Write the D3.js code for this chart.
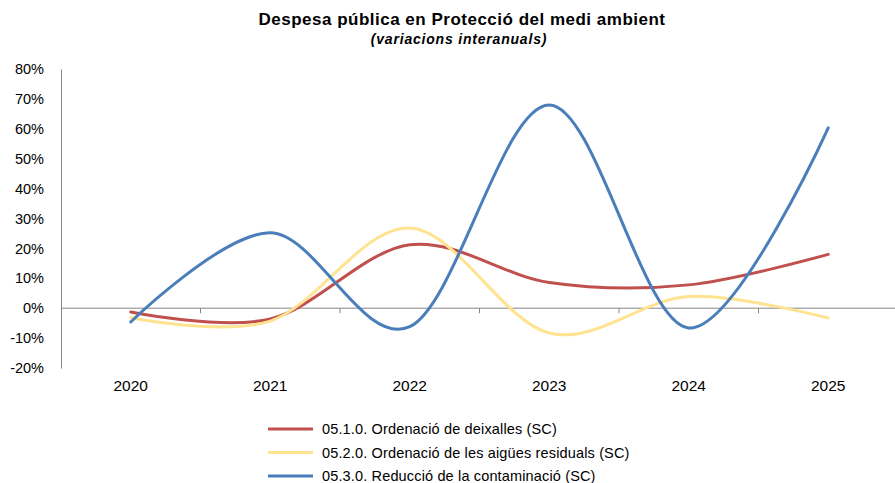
<!DOCTYPE html>
<html>
<head>
<meta charset="utf-8">
<script src="https://cdn.jsdelivr.net/npm/d3@7"></script>
<style>
  html, body { margin: 0; padding: 0; background: #fff; }
  text { font-family: "Liberation Sans", Arial, sans-serif; fill: #000; }
</style>
</head>
<body>
<div id="chart"></div>
<script>
var years = ['2020', '2021', '2022', '2023', '2024', '2025'];
var deixalles = [-1.3, -3.6, 21.2, 8.6, 7.8, 18.0];
var aigues = [-3.2, -4.3, 26.8, -8.3, 3.9, -3.3];
var contaminacio = [-4.6, 25.2, -6.2, 68.0, -6.6, 60.3];
var seriesNames = [
    '05.1.0. Ordenació de deixalles (SC)',
    '05.2.0. Ordenació de les aigües residuals (SC)',
    '05.3.0. Reducció de la contaminació (SC)'
];
var seriesColors = ['#c0504d', '#ffe391', '#4a7ebb'];
var yTicks = [-20, -10, 0, 10, 20, 30, 40, 50, 60, 70, 80];

var w = 895;
var h = 483;

var svg = d3.select('#chart').append('svg')
    .attr('width', w)
    .attr('height', h);

// titles
svg.append('text')
    .attr('x', 462)
    .attr('y', 25)
    .attr('text-anchor', 'middle')
    .style('font-size', '17px')
    .style('font-weight', 'bold')
    .style('letter-spacing', '0.5px')
    .text('Despesa pública en Protecció del medi ambient');

svg.append('text')
    .attr('x', 459)
    .attr('y', 44)
    .attr('text-anchor', 'middle')
    .style('font-size', '14px')
    .style('font-weight', 'bold')
    .style('font-style', 'italic')
    .style('letter-spacing', '0.8px')
    .text('(variacions interanuals)');

var plotLeft = 61;
var band = 139.5;

var x = d3.scaleBand()
    .domain(years)
    .range([plotLeft, plotLeft + band * years.length])
    .paddingInner(0)
    .paddingOuter(0);

var y = d3.scaleLinear()
    .domain([-20, 80])
    .range([368, 69]);

// y axis
var yAxis = d3.axisLeft(y)
    .tickValues(yTicks)
    .tickSize(0)
    .tickPadding(17)
    .tickFormat(function (d) { return d + '%'; });

var gy = svg.append('g')
    .attr('transform', 'translate(' + plotLeft + ',0)')
    .call(yAxis);
gy.select('.domain').attr('stroke', '#868686');
gy.selectAll('text')
    .style('font-size', '14.5px')
    .style('font-family', '"Liberation Sans", Arial, sans-serif');

// x axis at zero, ticks between categories
var gx = svg.append('g')
    .attr('transform', 'translate(0,' + y(0) + ')');
gx.append('line')
    .attr('x1', plotLeft)
    .attr('x2', w)
    .attr('stroke', '#868686');
gx.selectAll('line.tick')
    .data(years.slice(1))
    .enter().append('line')
    .attr('class', 'tick')
    .attr('x1', function (d) { return x(d); })
    .attr('x2', function (d) { return x(d); })
    .attr('y1', 0)
    .attr('y2', 5)
    .attr('stroke', '#868686');

svg.append('g')
    .selectAll('text')
    .data(years)
    .enter().append('text')
    .attr('x', function (d) { return x(d) + x.bandwidth() / 2; })
    .attr('y', 391)
    .attr('text-anchor', 'middle')
    .style('font-size', '15.5px')
    .text(function (d) { return d; });

// lines
var allSeries = [deixalles, aigues, contaminacio];

var line = d3.line()
    .x(function (d, i) { return x(years[i]) + x.bandwidth() / 2; })
    .y(function (d) { return y(d); })
    .curve(d3.curveCardinal.tension(0));

svg.append('g')
    .selectAll('path')
    .data(allSeries)
    .enter().append('path')
    .attr('d', line)
    .attr('fill', 'none')
    .attr('stroke', function (d, i) { return seriesColors[i]; })
    .attr('stroke-width', 3)
    .attr('stroke-linecap', 'round');

// legend
var legend = svg.append('g')
    .selectAll('g')
    .data(seriesNames)
    .enter().append('g')
    .attr('transform', function (d, i) { return 'translate(268,' + (429 + i * 23.5) + ')'; });

legend.append('line')
    .attr('x1', 0)
    .attr('x2', 45)
    .attr('stroke', function (d, i) { return seriesColors[i]; })
    .attr('stroke-width', 3);

legend.append('text')
    .attr('x', 54)
    .attr('y', 5)
    .style('font-size', '14.5px')
    .style('letter-spacing', '0.15px')
    .text(function (d) { return d; });
</script>
</body>
</html>
